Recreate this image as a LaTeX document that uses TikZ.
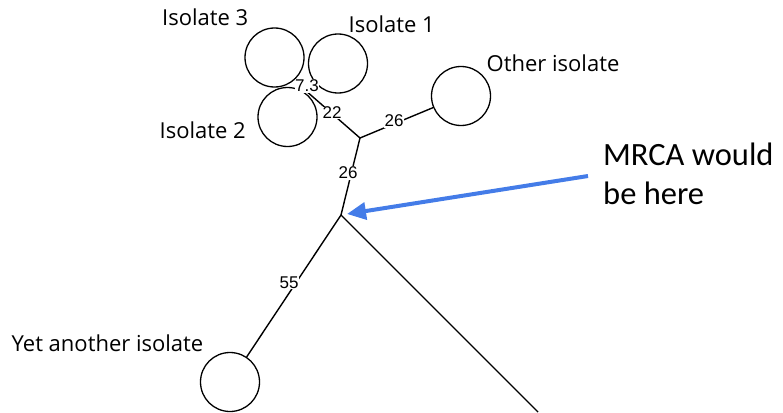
\documentclass[tikz,border=0pt]{standalone}
\usepackage{fontspec}
\setmainfont{Open Sans}
\newfontfamily\calfont{Carlito}
\newfontfamily\arialfont{Liberation Sans}
\usetikzlibrary{arrows.meta}
\definecolor{arrowblue}{RGB}{68,124,232}
\tikzset{
  iso/.style={circle, draw=black, line width=1.3pt, minimum size=59pt, inner sep=0pt},
  branch/.style={draw=black, line width=1.4pt},
  elabel/.style={fill=white, inner sep=0.5pt, font=\arialfont\fontsize{17}{19}\selectfont},
  lab/.style={anchor=base west, inner sep=0pt, font=\fontsize{22}{26}\selectfont},
  bigtext/.style={anchor=base west, inner sep=0pt, font=\calfont\fontsize{32.5}{39}\selectfont},
  mrcaarrow/.style={draw=arrowblue, line width=4pt, -{Triangle[length=19pt,width=17pt]}}
}
\begin{document}
\begin{tikzpicture}[x=1pt,y=-1pt]
\useasboundingbox (0,0) rectangle (783,412);
% circles
\node[iso] (i3) at (274.5,57.5) {};
\node[iso] (i1) at (338,63.5) {};
\node[iso] (i2) at (287.5,117) {};
\node[iso] (oth) at (461,96) {};
\node[iso] (yet) at (230,382) {};
% internal nodes
\coordinate (b) at (305,90);
\coordinate (a) at (360,138);
\coordinate (m) at (341,215);
\coordinate (off) at (538,412);
% branches
\draw[branch] (b) -- (i3);
\draw[branch] (b) -- (i1);
\draw[branch] (b) -- (i2);
\draw[branch] (a) -- (b);
\draw[branch] (a) -- (oth);
\draw[branch] (m) -- (a);
\draw[branch] (m) -- (yet);
\draw[branch] (m) -- (off);
% edge labels
\node[elabel] (l73) at (307,86) {7.3};
\node[elabel] (l22) at (332,113) {22};
\node[elabel] (l26a) at (394,121) {26};
\node[elabel] (l26b) at (348,173) {26};
\node[elabel] (l55) at (289,283) {55};
% isolate labels
\node[lab] (t3) at (162,26) {Isolate 3};
\node[lab] (t1) at (348.5,33) {Isolate 1};
\node[lab] (t2) at (159.5,138) {Isolate 2};
\node[lab] (to) at (486.5,71) {Other isolate};
\node[lab] (ty) at (11.5,351) {Yet another isolate};
% MRCA text and arrow
\node[bigtext] (mr1) at (603,165) {MRCA would};
\node[bigtext] (mr2) at (603,204) {be here};
\coordinate (tail) at (588,176);
\coordinate (tip) at (347,214);
\draw[mrcaarrow] (tail) -- (tip);
\end{tikzpicture}
\end{document}
